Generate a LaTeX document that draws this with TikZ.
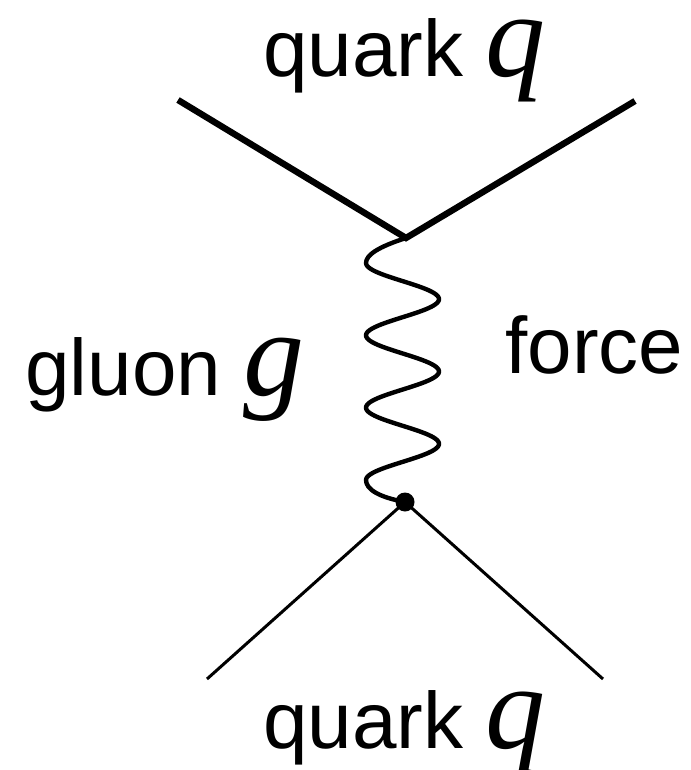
\documentclass[tikz,border=0pt]{standalone}
\usepackage{fontspec}
\setmainfont{Liberation Sans}
\newfontfamily\qfont{Liberation Serif}
\begin{document}
\begin{tikzpicture}[x=0.5pt,y=-0.5pt,
  lbl/.style={inner sep=0pt, anchor=base west, font=\fontsize{40}{48}\selectfont},
  thickline/.style={line width=3.2pt, line join=miter},
  thinline/.style={line width=1.5pt},
  gluonline/.style={line width=2.2pt, line join=round},
  vertexdot/.style={circle, fill=black, inner sep=0pt, minimum size=9.5pt}]
\useasboundingbox (0,0) rectangle (690,770);
% vertices and free ends
\coordinate (tl) at (178,100);
\coordinate (tr) at (635,101);
\coordinate (tv) at (406,238);
\coordinate (bl) at (207,679);
\coordinate (br) at (603,679);
\node[vertexdot] (bv) at (405,502) {};
% quark lines
\draw[thickline] (tl) -- (tv) -- (tr);
\draw[thinline] (bl) -- (bv.center) -- (br);
% gluon
\draw[gluonline] (tv) .. controls (378,247) and (366,255) .. (366,263)
  -- plot[domain=263:480,samples=160,variable=\t] ({402.5-36.5*cos((\t-263)*4.97696)},{\t})
  .. controls (366,489) and (378,497) .. (bv.center);
% labels
\node[lbl] (qtop) at (263,77) {quark {\fontsize{60}{62}\selectfont\qfont\itshape q}};
\node[lbl] (qbot) at (263,748) {quark {\fontsize{60}{62}\selectfont\qfont\itshape q}};
\node[lbl] (gl) at (25,395) {gluon {\fontsize{61}{63}\selectfont\qfont\itshape g}};
\node[lbl] (force) at (505,373) {force};
\end{tikzpicture}
\end{document}
